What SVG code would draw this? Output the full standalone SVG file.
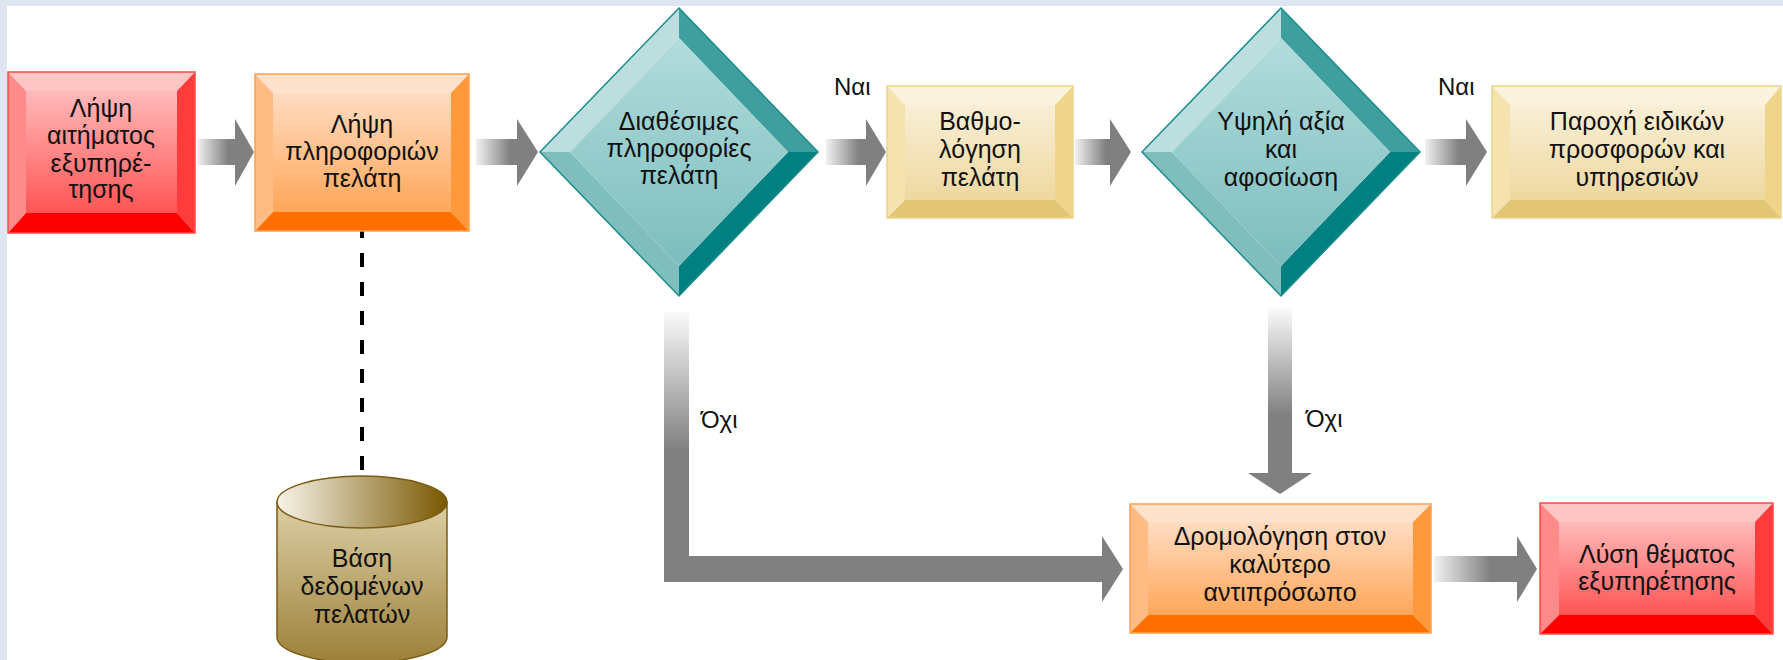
<svg xmlns="http://www.w3.org/2000/svg" width="1783" height="660" viewBox="0 0 1783 660">
<style>
text{font-family:"Liberation Sans",Arial,sans-serif;font-size:25px;fill:#111;text-anchor:middle}
.lbl{text-anchor:start;font-size:24px}
.rt{fill:#ffc4c4}.rl{fill:#ff8a8a}.rr{fill:#ff3c3c}.rb{fill:#ff0000}.rf{fill:url(#gRed)}.rs{fill:none;stroke:#ff4a4a;stroke-width:1.5}
.ot{fill:#ffe2cc}.ol{fill:#ffbb84}.or{fill:#ff9a3c}.ob{fill:#ff7000}.of{fill:url(#gOr)}.os{fill:none;stroke:#ffa050;stroke-width:1.5}
.yt{fill:#fbf3dd}.yl{fill:#f4e3ae}.yr{fill:#eed58a}.yb{fill:#e3c673}.yf{fill:url(#gYe)}.ys{fill:none;stroke:#ecd48c;stroke-width:1.5}
.dtl{fill:#bcdede}.dtr{fill:#3f9f9f}.dbr{fill:#008080}.dbl{fill:#80bebe}.df{fill:url(#gTe)}.ds{fill:none;stroke:#1a8c8c;stroke-width:1.5}
.harrow{fill:url(#gArr)}
</style>
<defs>
<linearGradient id="gRed" x1="0" y1="0" x2="0" y2="1"><stop offset="0" stop-color="#ffbaba"/><stop offset="1" stop-color="#ff5454"/></linearGradient>
<linearGradient id="gOr" x1="0" y1="0" x2="0" y2="1"><stop offset="0" stop-color="#ffdcc2"/><stop offset="1" stop-color="#ffa659"/></linearGradient>
<linearGradient id="gYe" x1="0" y1="0" x2="0" y2="1"><stop offset="0" stop-color="#f9efd6"/><stop offset="1" stop-color="#eed8a0"/></linearGradient>
<linearGradient id="gTe" x1="0" y1="0" x2="0" y2="1"><stop offset="0" stop-color="#b2dcdc"/><stop offset="1" stop-color="#7cbdbd"/></linearGradient>
<linearGradient id="gArr" x1="0" y1="0" x2="1" y2="0"><stop offset="0" stop-color="#f2f2f2"/><stop offset="0.55" stop-color="#808080"/><stop offset="1" stop-color="#808080"/></linearGradient>
<linearGradient id="gV1" gradientUnits="userSpaceOnUse" x1="0" y1="312" x2="0" y2="450"><stop offset="0" stop-color="#fafafa"/><stop offset="1" stop-color="#808080"/></linearGradient>
<linearGradient id="gV2" gradientUnits="userSpaceOnUse" x1="0" y1="308" x2="0" y2="415"><stop offset="0" stop-color="#fafafa"/><stop offset="1" stop-color="#808080"/></linearGradient>
<linearGradient id="gCylTop" x1="0" y1="0" x2="1" y2="0"><stop offset="0" stop-color="#f7f4ea"/><stop offset="1" stop-color="#7a5800"/></linearGradient>
<linearGradient id="gCylBody" x1="0" y1="0" x2="0" y2="1"><stop offset="0" stop-color="#dccfa6"/><stop offset="1" stop-color="#9c8038"/></linearGradient>
</defs>
<rect x="0" y="0" width="1783" height="660" fill="#dfe5f0"/>
<rect x="7" y="6" width="1776" height="654" fill="#ffffff"/>

<g id="connectors">
<path class="harrow" d="M197,139 H235 V119 L254,152 L235,186 V165 H197 Z"/>
<path class="harrow" d="M476,139 H517 V119 L538,152 L517,186 V165 H476 Z"/>
<path class="harrow" d="M826,139 H866 V119 L886,152 L866,186 V165 H826 Z"/>
<path class="harrow" d="M1075,139 H1110 V119 L1131,152 L1110,186 V165 H1075 Z"/>
<path class="harrow" d="M1425,139 H1466 V119 L1487,152 L1466,186 V165 H1425 Z"/>
<path class="harrow" d="M1434,556 H1517 V536 L1537,569 L1517,602 V582 H1434 Z"/>
<path fill="url(#gV1)" d="M664,312 H689 V556 H1102 V536 L1123,569 L1102,602 V582 H664 Z"/>
<path fill="url(#gV2)" d="M1268,308 H1292 V473 H1312 L1280,494 L1248,473 H1268 Z"/>
<line x1="362" y1="224" x2="362" y2="470" stroke="#000" stroke-width="4" stroke-dasharray="14 15"/>
<text class="lbl" x="834" y="95">Ναι</text>
<text class="lbl" x="1438" y="95">Ναι</text>
<text class="lbl" x="701" y="428">Όχι</text>
<text class="lbl" x="1306" y="427">Όχι</text>
</g>

<g id="n1">
<polygon class="rt" points="8,72 195,72 177,91 26,91"/>
<polygon class="rl" points="8,72 26,91 26,213 8,233"/>
<polygon class="rr" points="195,72 195,233 177,213 177,91"/>
<polygon class="rb" points="8,233 26,213 177,213 195,233"/>
<rect class="rf" x="26" y="91" width="151" height="122"/>
<rect class="rs" x="8" y="72" width="187" height="161"/>
<text x="101" y="117">Λήψη</text>
<text x="101" y="144">αιτήματος</text>
<text x="101" y="172">εξυπηρέ-</text>
<text x="101" y="198">τησης</text>
</g>

<g id="n2">
<polygon class="ot" points="255,74 469,74 451,93 273,93"/>
<polygon class="ol" points="255,74 273,93 273,212 255,231"/>
<polygon class="or" points="469,74 469,231 451,212 451,93"/>
<polygon class="ob" points="255,231 273,212 451,212 469,231"/>
<rect class="of" x="273" y="93" width="178" height="119"/>
<rect class="os" x="255" y="74" width="214" height="157"/>
<text x="362" y="133">Λήψη</text>
<text x="362" y="160">πληροφοριών</text>
<text x="362" y="187">πελάτη</text>
</g>

<g id="n3">
<polygon class="dtl" points="679,8 540,152 570,152 679,38"/>
<polygon class="dtr" points="679,8 818,152 788,152 679,38"/>
<polygon class="dbr" points="818,152 679,296 679,266 788,152"/>
<polygon class="dbl" points="540,152 679,296 679,266 570,152"/>
<polygon class="df" points="679,38 788,152 679,266 570,152"/>
<polygon class="ds" points="679,8 818,152 679,296 540,152"/>
<text x="679" y="130">Διαθέσιμες</text>
<text x="679" y="157">πληροφορίες</text>
<text x="679" y="184">πελάτη</text>
</g>

<g id="n4">
<polygon class="yt" points="887,86 1073,86 1055,105 905,105"/>
<polygon class="yl" points="887,86 905,105 905,200 887,218"/>
<polygon class="yr" points="1073,86 1073,218 1055,200 1055,105"/>
<polygon class="yb" points="887,218 905,200 1055,200 1073,218"/>
<rect class="yf" x="905" y="105" width="150" height="95"/>
<rect class="ys" x="887" y="86" width="186" height="132"/>
<text x="980" y="130">Βαθμο-</text>
<text x="980" y="158">λόγηση</text>
<text x="980" y="186">πελάτη</text>
</g>

<g id="n5">
<polygon class="dtl" points="1281,8 1142,152 1172,152 1281,38"/>
<polygon class="dtr" points="1281,8 1420,152 1390,152 1281,38"/>
<polygon class="dbr" points="1420,152 1281,296 1281,266 1390,152"/>
<polygon class="dbl" points="1142,152 1281,296 1281,266 1172,152"/>
<polygon class="df" points="1281,38 1390,152 1281,266 1172,152"/>
<polygon class="ds" points="1281,8 1420,152 1281,296 1142,152"/>
<text x="1281" y="130">Υψηλή αξία</text>
<text x="1281" y="158">και</text>
<text x="1281" y="186">αφοσίωση</text>
</g>

<g id="n6">
<polygon class="yt" points="1492,86 1781,86 1765,105 1510,105"/>
<polygon class="yl" points="1492,86 1510,105 1510,200 1492,218"/>
<polygon class="yr" points="1781,86 1781,218 1765,200 1765,105"/>
<polygon class="yb" points="1492,218 1510,200 1765,200 1781,218"/>
<rect class="yf" x="1510" y="105" width="255" height="95"/>
<rect class="ys" x="1492" y="86" width="289" height="132"/>
<text x="1637" y="130">Παροχή ειδικών</text>
<text x="1637" y="158">προσφορών και</text>
<text x="1637" y="186">υπηρεσιών</text>
</g>

<g id="n7">
<path fill="url(#gCylBody)" stroke="#7a5c14" stroke-width="1.5" d="M277,502 V637 A85,26 0 0 0 447,637 V502 Z"/>
<ellipse cx="362" cy="502" rx="85" ry="26" fill="url(#gCylTop)" stroke="#7a5c14" stroke-width="1.5"/>
<text x="362" y="567">Βάση</text>
<text x="362" y="595">δεδομένων</text>
<text x="362" y="623">πελατών</text>
</g>

<g id="n8">
<polygon class="ot" points="1130,504 1431,504 1413,522 1148,522"/>
<polygon class="ol" points="1130,504 1148,522 1148,615 1130,633"/>
<polygon class="or" points="1431,504 1431,633 1413,615 1413,522"/>
<polygon class="ob" points="1130,633 1148,615 1413,615 1431,633"/>
<rect class="of" x="1148" y="522" width="265" height="93"/>
<rect class="os" x="1130" y="504" width="301" height="129"/>
<text x="1280" y="545">Δρομολόγηση στον</text>
<text x="1280" y="573">καλύτερο</text>
<text x="1280" y="601">αντιπρόσωπο</text>
</g>

<g id="n9">
<polygon class="rt" points="1540,503 1773,503 1755,522 1559,522"/>
<polygon class="rl" points="1540,503 1559,522 1559,615 1540,634"/>
<polygon class="rr" points="1773,503 1773,634 1755,615 1755,522"/>
<polygon class="rb" points="1540,634 1559,615 1755,615 1773,634"/>
<rect class="rf" x="1559" y="522" width="196" height="93"/>
<rect class="rs" x="1540" y="503" width="233" height="131"/>
<text x="1657" y="563">Λύση θέματος</text>
<text x="1657" y="590">εξυπηρέτησης</text>
</g>
</svg>
